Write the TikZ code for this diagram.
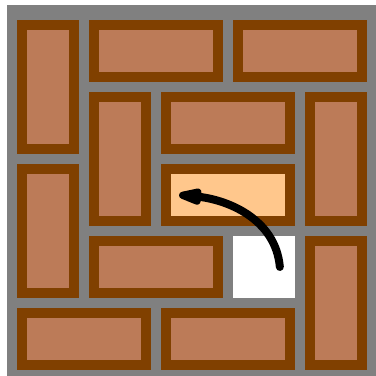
\documentclass[tikz,border=0pt]{standalone}
\usetikzlibrary{arrows.meta}
\definecolor{brickfill}{RGB}{188,123,88}
\definecolor{brickedge}{RGB}{128,64,0}
\definecolor{brickmoved}{RGB}{255,199,140}
\definecolor{floorgray}{RGB}{128,128,128}

\begin{document}
\begin{tikzpicture}[
    brick/.style={rectangle, draw=brickedge, fill=brickfill, line width=0.139cm, inner sep=0pt},
    hbrick/.style={brick, minimum width=1.722cm, minimum height=0.722cm},
    vbrick/.style={brick, minimum width=0.722cm, minimum height=1.722cm},
    hole/.style={rectangle, fill=white, inner sep=0pt, minimum size=0.861cm},
    move/.style={-{Stealth[length=0.5cm, width=0.29cm, inset=0.1cm, round]}, line width=0.111cm, line cap=round}
]

% Picture frame and floor
\useasboundingbox (-0.1667,-0.0139) rectangle (5.0556,5.2083);
\clip (-0.1667,-0.0139) rectangle (5.0556,5.2083);
\fill[floorgray] (-0.0694,-0.0694) rectangle (5.0694,5.1389);

% Top row
\node[vbrick] (b1) at (0.5,4) {};
\node[hbrick] (b2) at (2,4.5) {};
\node[hbrick] (b3) at (4,4.5) {};

% Middle rows
\node[vbrick] (b4) at (1.5,3) {};
\node[hbrick] (b5) at (3,3.5) {};
\node[vbrick] (b6) at (4.5,3) {};
\node[vbrick] (b7) at (0.5,2) {};
\node[hbrick, fill=brickmoved] (slide) at (3,2.5) {};
\node[hbrick] (b9) at (2,1.5) {};
\node[hole] (gap) at (3.5,1.5) {};
\node[vbrick] (b11) at (4.5,1) {};

% Bottom row
\node[hbrick] (b12) at (1,0.5) {};
\node[hbrick] (b13) at (3,0.5) {};

% Sliding move
\draw[move] ([xshift=0.22cm]gap.center) to[out=95, in=-5] ([xshift=-0.68cm]slide.center);

\end{tikzpicture}
\end{document}
